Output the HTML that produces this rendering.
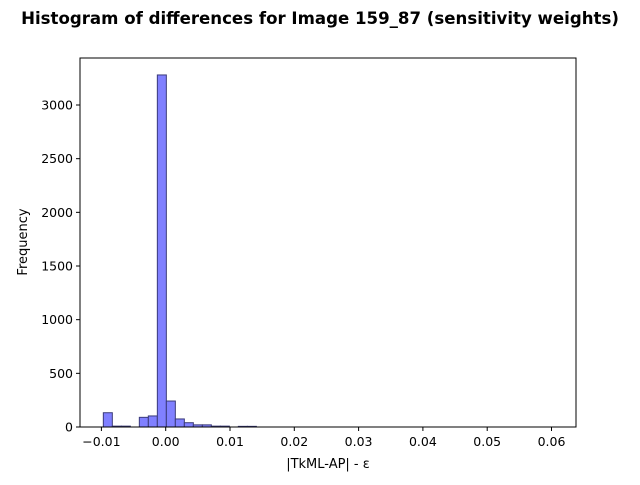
<!DOCTYPE html>
<html><head><meta charset="utf-8"><style>body{margin:0;background:#fff}svg{font-family:"DejaVu Sans","Liberation Sans",sans-serif}</style></head>
<body>
<svg id="c" width="640" height="480">
<text x="320" y="24" text-anchor="middle" font-size="16.6" font-weight="bold">Histogram of differences for Image 159_87 (sensitivity weights)</text>
<g id="bars"></g>
<rect x="80" y="58" width="496" height="369" fill="none" stroke="#000" stroke-width="1"/>
<g id="ax"></g>
<text x="328" y="468" text-anchor="middle" font-size="13">|TkML-AP| - ε</text>
<text transform="translate(27,242) rotate(-90)" text-anchor="middle" font-size="13">Frequency</text>
</svg>
<script>
const binStart=-0.0097, binWidth=0.0014;
const counts=[133,8,8,0,90,103,3280,242,75,40,20,20,8,8,0,6,6,0,0,0,0,0,0,0,0,0,0,0,0,0,0,0,0,0,0,0,0,0,0,0,0,0,0,0,0,0,0,0,0,0];
const xTicks=[-0.01,0,0.01,0.02,0.03,0.04,0.05,0.06];
const xTickLabels=["−0.01","0.00","0.01","0.02","0.03","0.04","0.05","0.06"];
const yTicks=[0,500,1000,1500,2000,2500,3000];
const NS="http://www.w3.org/2000/svg";
const X=v=>165.7+v*6430, Y=v=>427-v*0.10733;
const bars=document.getElementById('bars'), ax=document.getElementById('ax');
function mk(t,a,p){const e=document.createElementNS(NS,t);for(const k in a)e.setAttribute(k,a[k]);p.appendChild(e);return e;}
counts.forEach((c,i)=>{if(c<=0)return;const x0=X(binStart+i*binWidth),x1=X(binStart+(i+1)*binWidth);
const r=mk('rect',{x:x0,y:Y(c),width:x1-x0,height:Y(0)-Y(c),fill:'#8080ff',stroke:'#3a3a7a','stroke-width':1},bars);

});
xTicks.forEach((v,i)=>{const x=X(v);mk('line',{x1:x,x2:x,y1:427,y2:431,stroke:'#000'},ax);
const t=mk('text',{x:x,y:446,'text-anchor':'middle','font-size':12.5},ax);t.textContent=xTickLabels[i];

});
yTicks.forEach(v=>{const y=Y(v);mk('line',{x1:76,x2:80,y1:y,y2:y,stroke:'#000'},ax);
const t=mk('text',{x:73,y:y+4.5,'text-anchor':'end','font-size':12.5},ax);t.textContent=v;

});
</script>
</body></html>
